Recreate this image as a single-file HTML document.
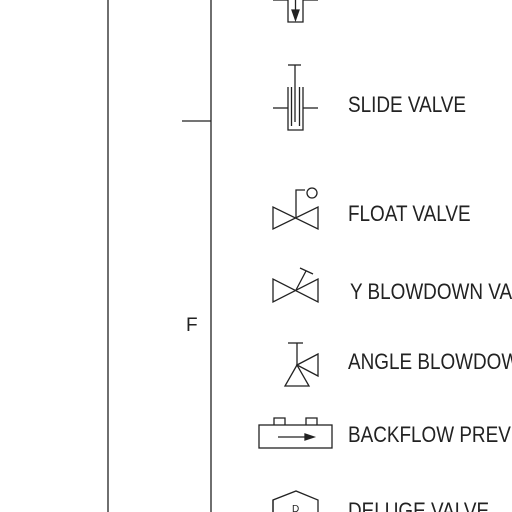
<!DOCTYPE html>
<html><head><style>
html,body{margin:0;padding:0;background:#fff;}
svg{display:block;}
text{font-family:"Liberation Sans",sans-serif;fill:#222;}
</style></head><body>
<svg width="512" height="512" viewBox="0 0 512 512" stroke="#222" stroke-width="1.3" fill="none">
<g>
<line x1="108" y1="0" x2="108" y2="512"/>
<line x1="211" y1="0" x2="211" y2="512"/>
<line x1="182" y1="121" x2="211" y2="121"/>
</g>
<text x="186" y="331" font-size="19" stroke="none">F</text>

<g>
<line x1="273" y1="0" x2="288" y2="0"/><line x1="303" y1="0" x2="318" y2="0"/>
<path d="M288 0V22H303V0"/><line x1="295.5" y1="0" x2="295.5" y2="12"/>
<path d="M292 10L295.5 20L299 10Z" fill="#222"/>
</g>

<g>
<line x1="288" y1="65" x2="301" y2="65"/><line x1="295" y1="65" x2="295" y2="122"/>
<path d="M288 87V130H303V87"/><line x1="291.5" y1="87" x2="291.5" y2="126"/><line x1="299.5" y1="87" x2="299.5" y2="126"/>
<line x1="273" y1="108" x2="288" y2="108"/><line x1="303" y1="108" x2="318" y2="108"/>
</g>
<text x="348" y="112" font-size="22" stroke="none" transform="translate(348 0) scale(0.86 1) translate(-348 0)">SLIDE VALVE</text>

<g>
<path d="M273 207V229L318 207V229Z"/>
<path d="M296 218V190H305"/><circle cx="312" cy="193" r="5"/>
</g>
<text x="348" y="221" font-size="22" stroke="none" transform="translate(348 0) scale(0.86 1) translate(-348 0)">FLOAT VALVE</text>

<g>
<path d="M273 279V302L318 279V302Z"/>
<line x1="296" y1="290" x2="306" y2="271"/><line x1="300" y1="268" x2="313" y2="274"/>
</g>
<text x="350" y="299" font-size="22" stroke="none" transform="translate(350 0) scale(0.86 1) translate(-350 0)">Y BLOWDOWN VALVE</text>

<g>
<line x1="288" y1="343" x2="303" y2="343"/><line x1="297" y1="343" x2="297" y2="365"/>
<path d="M297 365L318 354V376Z"/><path d="M297 365L285 386H309Z"/>
</g>
<text x="348" y="369" font-size="22" stroke="none" transform="translate(348 0) scale(0.86 1) translate(-348 0)">ANGLE BLOWDOWN VALVE</text>

<g>
<rect x="259" y="425" width="73" height="23"/>
<path d="M274 425V418H285V425"/><path d="M306 425V418H317V425"/>
<line x1="278" y1="437" x2="306" y2="437"/><path d="M305 434L314 437L305 440Z" fill="#222"/>
</g>
<text x="348" y="442" font-size="22" stroke="none" transform="translate(348 0) scale(0.86 1) translate(-348 0)">BACKFLOW PREVENTER</text>

<g>
<path d="M273 512V500L296 491L318 500V512"/><line x1="273" y1="500" x2="273" y2="512"/>
<text x="292" y="512" font-size="10" stroke="none">D</text>
</g>
<text x="348" y="518" font-size="22" stroke="none" transform="translate(348 0) scale(0.86 1) translate(-348 0)">DELUGE VALVE</text>
</svg>
</body></html>
